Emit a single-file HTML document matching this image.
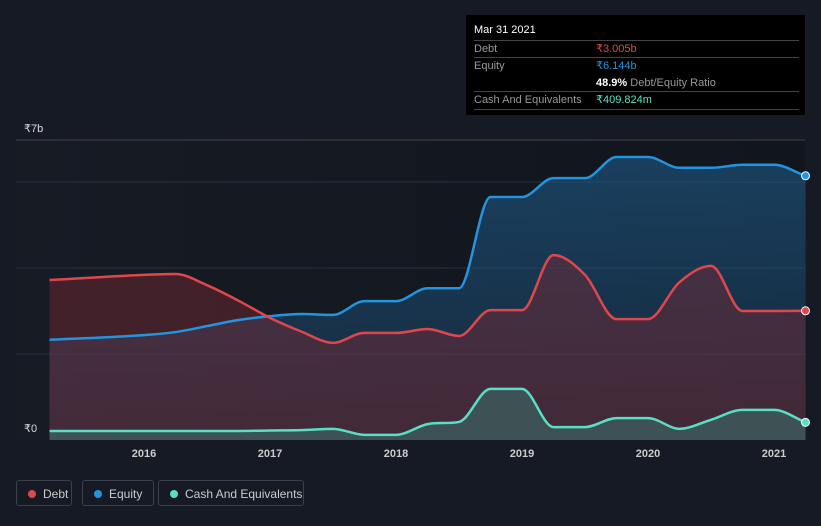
<!DOCTYPE html>
<html><head><meta charset="utf-8"><style>
body{margin:0;background:#151a24;width:821px;height:526px;overflow:hidden;font-family:"Liberation Sans",sans-serif}
svg{position:absolute;left:0;top:0}
.tt{position:absolute;left:466px;top:15px;width:339px;height:100px;background:#000;font-size:11px;color:#999}
.row{position:absolute;left:8px;width:325px;border-top:1px solid #444;height:17px;line-height:17px}
.leg{position:absolute;top:480px;height:26px;border:1px solid #3a404c;border-radius:3px;color:#ccc;font-size:12px;line-height:26px;box-sizing:border-box;padding-left:26px}
.leg i{position:absolute;left:11px;top:9px;width:8px;height:8px;border-radius:50%}
</style></head><body>
<svg width="821" height="526">
<defs>
<linearGradient id="bg" x1="0" x2="1"><stop offset="0" stop-color="#161b24"/><stop offset="1" stop-color="#11151d"/></linearGradient>
<linearGradient id="eq" x1="0" y1="0" x2="0" y2="1"><stop offset="0" stop-color="#1e5b8a" stop-opacity=".6"/><stop offset="1" stop-color="#1e5b8a" stop-opacity=".25"/></linearGradient>
</defs>
<rect x="16" y="140" width="789" height="300" fill="url(#bg)"/>
<g id="grid"></g><g id="areas"></g><g id="lines"></g><g id="xt"></g>
<text x="24" y="132" fill="#ddd" font-size="11">₹7b</text>
<text x="24" y="432" fill="#ddd" font-size="11">₹0</text>
</svg>
<div class="tt">
<div style="position:absolute;left:8px;top:9px;color:#fff;font-size:11px">Mar 31 2021</div>
<div class="row" style="top:25px">Debt<span style="position:absolute;left:122px;color:#e0474c">₹3.005b</span></div>
<div class="row" style="top:42px">Equity<span style="position:absolute;left:122px;color:#2394df">₹6.144b</span></div>
<div style="position:absolute;left:130px;top:60px;line-height:17px"><b style="color:#fff">48.9%</b> Debt/Equity Ratio</div>
<div class="row" style="top:76px;border-bottom:1px solid #444">Cash And Equivalents<span style="position:absolute;left:122px;color:#58e0c6">₹409.824m</span></div>
</div>
<div class="leg" style="left:16px;width:56px"><i style="background:#e0474c"></i>Debt</div>
<div class="leg" style="left:82px;width:72px"><i style="background:#2394df"></i>Equity</div>
<div class="leg" style="left:158px;width:146px"><i style="background:#58e0c6"></i>Cash And Equivalents</div>
<script>
const times=[2015.25,2016,2016.25,2016.5,2016.75,2017,2017.25,2017.5,2017.75,2018,2018.25,2018.5,2018.75,2019,2019.25,2019.5,2019.75,2020,2020.25,2020.5,2020.75,2021,2021.25];
const debt=[3.72,3.84,3.86,3.6,3.24,2.84,2.52,2.26,2.49,2.49,2.58,2.42,3.02,3.02,4.3,3.84,2.81,2.81,3.67,4.05,3.0,3.0,3.005];
const equity=[2.33,2.44,2.51,2.65,2.79,2.88,2.93,2.91,3.23,3.23,3.53,3.53,5.65,5.65,6.09,6.09,6.58,6.58,6.33,6.33,6.4,6.4,6.144];
const cash=[0.21,0.21,0.21,0.21,0.21,0.22,0.23,0.26,0.12,0.12,0.37,0.42,1.19,1.19,0.3,0.3,0.51,0.51,0.26,0.47,0.7,0.7,0.41];
const yearTicks=[2016,2017,2018,2019,2020,2021];
const gridVals=[2,4,6];
const X=t=>144+(t-2016)*126, Y=v=>440-v*43;
const NS='http://www.w3.org/2000/svg';
function mk(tag,attrs,parent){const e=document.createElementNS(NS,tag);for(const k in attrs)e.setAttribute(k,attrs[k]);document.getElementById(parent).appendChild(e);return e;}
function path(vals){
  const xs=times.map(X),ys=vals.map(Y),n=xs.length;
  const s=[];for(let i=0;i<n-1;i++)s.push((ys[i+1]-ys[i])/(xs[i+1]-xs[i]));
  const m=new Array(n);m[0]=s[0];m[n-1]=s[n-2];
  for(let i=1;i<n-1;i++){m[i]=(s[i-1]*s[i]<=0)?0:(s[i-1]+s[i])/2;
    const a=m[i]/s[i-1],b=m[i]/s[i];const h=a*a+b*b;if(h>9){const t=3/Math.sqrt(h);m[i]=t*a*s[i-1];}}
  for(let i=0;i<n-1;i++){if(s[i]===0){m[i]=0;m[i+1]=0;}}
  let d='M'+xs[0]+','+ys[0];
  for(let i=0;i<n-1;i++){const h=(xs[i+1]-xs[i])/3;d+=` C${xs[i]+h},${ys[i]+m[i]*h} ${xs[i+1]-h},${ys[i+1]-m[i+1]*h} ${xs[i+1]},${ys[i+1]}`;}
  return d;}
gridVals.forEach(v=>{const g=mk('line',{x1:16,x2:805,y1:Y(v),y2:Y(v),stroke:'#2a303a'},'grid');

});
mk('line',{x1:16,x2:805,y1:140,y2:140,stroke:'#444'},'grid');
const base=` L${X(times[times.length-1])},440 L${X(times[0])},440 Z`;
const a1=mk('path',{d:path(equity)+base,fill:'url(#eq)'},'areas');

const a2=mk('path',{d:path(debt)+base,fill:'#7a2a33',opacity:.45},'areas');

const a3=mk('path',{d:path(cash)+base,fill:'#3a7a72',opacity:.5},'areas');

[[equity,'#2394df','equity'],[debt,'#e0474c','debt'],[cash,'#58e0c6','cash']].forEach(([v,c,n])=>{
const l=mk('path',{d:path(v),fill:'none',stroke:c,'stroke-width':2.5},'lines');


const p=mk('circle',{cx:X(times[times.length-1]),cy:Y(v[v.length-1]),r:4,fill:c,stroke:'#fff','stroke-width':1},'lines');

});
yearTicks.forEach(t=>{const e=mk('text',{x:X(t),y:457,fill:'#ccc','font-size':11,'text-anchor':'middle','font-weight':'bold'},'xt');e.textContent=t;

});
</script>
</body></html>
